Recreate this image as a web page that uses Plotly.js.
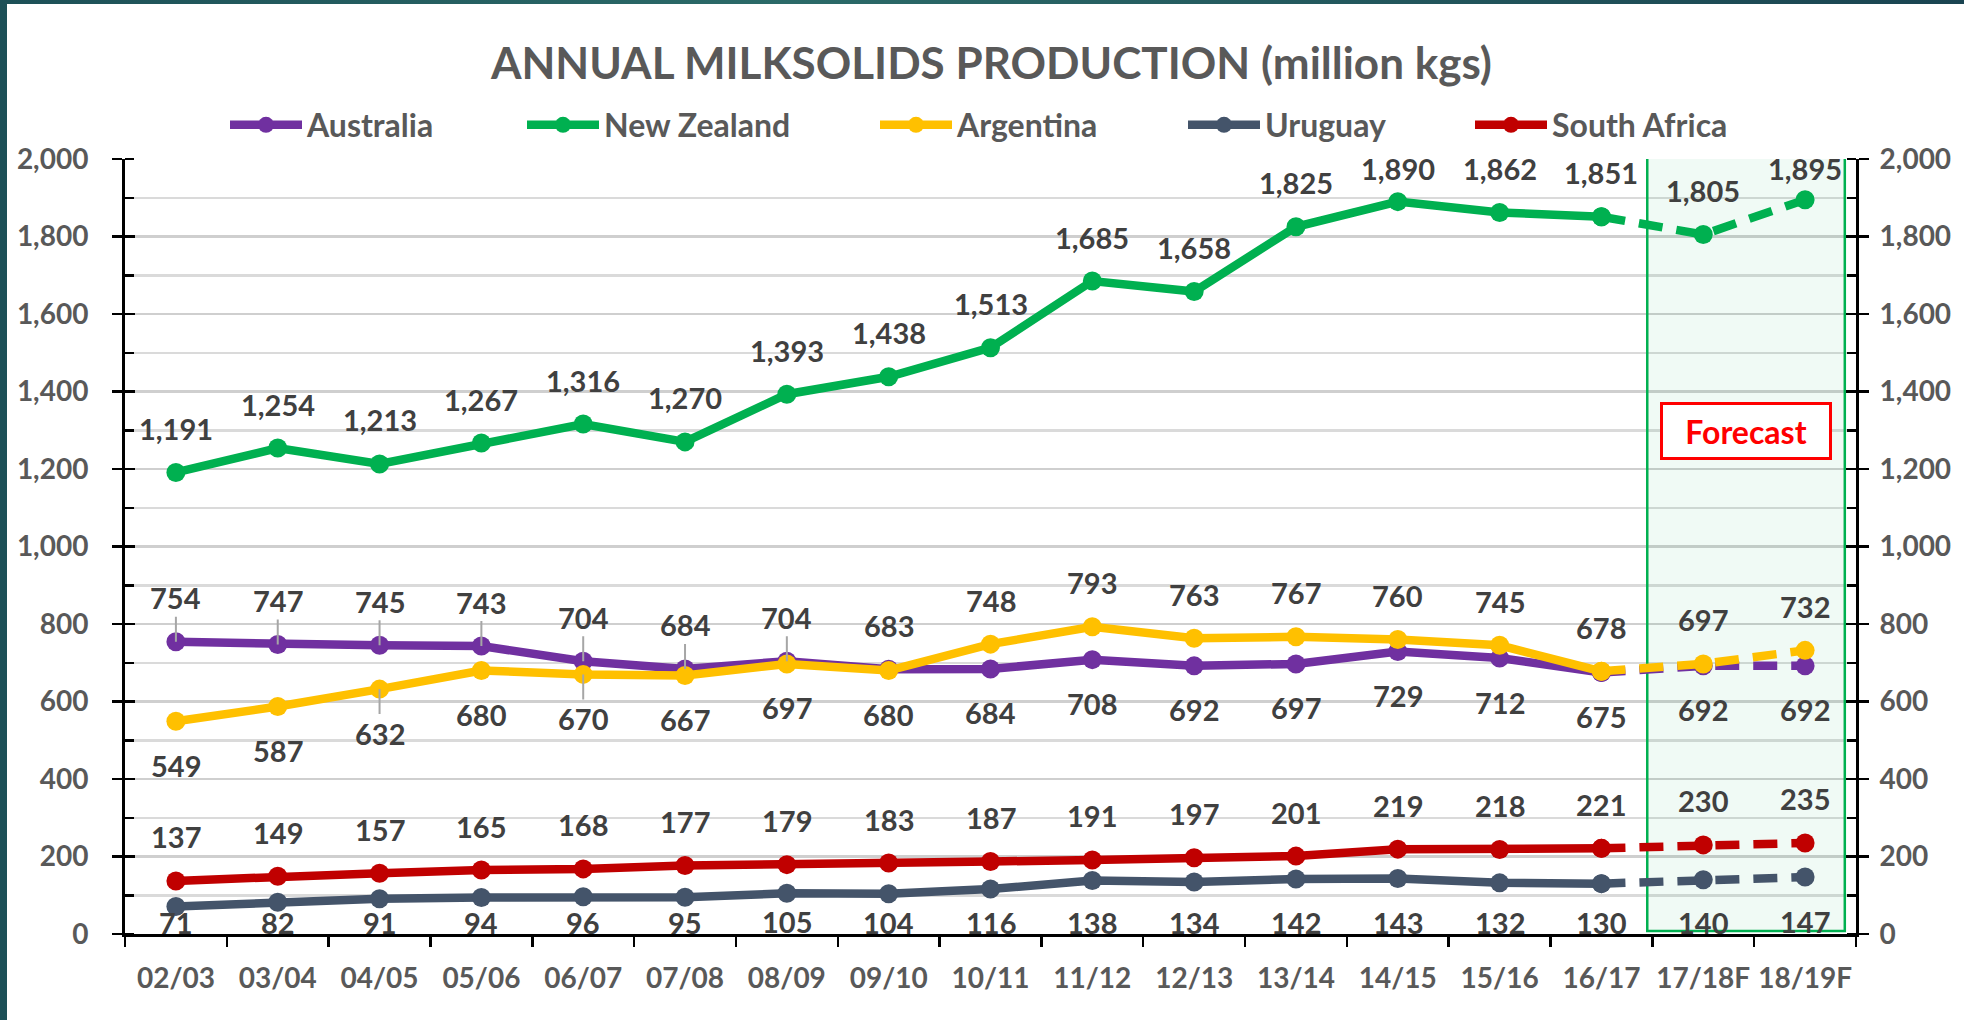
<!DOCTYPE html>
<html><head><meta charset="utf-8">
<script src="https://cdn.plot.ly/plotly-3.0.1.min.js"></script>
<style>
html,body{margin:0;padding:0;width:1964px;height:1020px;overflow:hidden;
background:linear-gradient(90deg,#1d5057 0%,#2b6a68 40%,#1a4451 100%);}
#chart{position:absolute;left:7px;top:4px;width:1957px;height:1016px;background:#fff;}
</style></head><body><div id="chart"></div>
<script>
// ---- data ----
const seasons = ["02/03","03/04","04/05","05/06","06/07","07/08","08/09","09/10","10/11","11/12","12/13","13/14","14/15","15/16","16/17","17/18F","18/19F"];
const australia   = [754,747,745,743,704,684,704,683,684,708,692,697,729,712,675,692,692];
const newZealand  = [1191,1254,1213,1267,1316,1270,1393,1438,1513,1685,1658,1825,1890,1862,1851,1805,1895];
const argentina   = [549,587,632,680,670,667,697,680,748,793,763,767,760,745,678,697,732];
const uruguay     = [71,82,91,94,96,95,105,104,116,138,134,142,143,132,130,140,147];
const southAfrica = [137,149,157,165,168,177,179,183,187,191,197,201,219,218,221,230,235];
const seriesNames = ["Australia","New Zealand","Argentina","Uruguay","South Africa"];
const titleText = "ANNUAL MILKSOLIDS PRODUCTION (million kgs)";
const forecastText = "Forecast";

// ---- layout constants ----
const W = 1957, H = 1016;
const M = {l:118, r:108, t:155, b:86};
const plotW = W - M.l - M.r, plotH = H - M.t - M.b;
const yMax = 2000;
const ppu = plotH / yMax;
const FONT = "Lato, 'Open Sans', sans-serif";
const colors = ["#7030a0","#00b050","#ffc000","#44546a","#c00000"];
const values = [australia,newZealand,argentina,uruguay,southAfrica];
// data labels that were dragged away in the original and show a leader line (series index -> season indices)
const leaderLabels = {0:[0,1,2,3,4,5,6], 2:[2,4]};

const firstF = seasons.findIndex(s => s.endsWith("F"));
const histEnd = firstF;
const last = seasons.length - 1;

// label sides: +1 above, -1 below
const sides = [
  australia.map((v,i) => v >= argentina[i] ? 1 : -1),
  newZealand.map(() => 1),
  argentina.map((v,i) => v > australia[i] ? 1 : -1),
  uruguay.map(() => -1),
  southAfrica.map(() => 1)
];

const traces = [];
const legendIds = ["legend","legend2","legend3","legend4","legend5"];
values.forEach((vals, k) => {
  traces.push({
    type:"scatter", mode:"lines+markers", name:seriesNames[k],
    x: seasons.slice(0, histEnd), y: vals.slice(0, histEnd),
    line:{color:colors[k], width:8.5}, marker:{color:colors[k], size:19},
    legend: legendIds[k], hoverinfo:"skip"
  });
  traces.push({
    type:"scatter", mode:"lines+markers", name:seriesNames[k], showlegend:false,
    x: seasons.slice(histEnd-1), y: vals.slice(histEnd-1),
    line:{color:colors[k], width:8.5, dash:"24px,14px"}, marker:{color:colors[k], size:19},
    legend: legendIds[k], hoverinfo:"skip"
  });
});
// empty traces so that the overlaid tick axes are drawn
["y2","y3","y4"].forEach(ax => traces.push({type:"scatter", mode:"markers", x:[], y:[], yaxis:ax, showlegend:false, hoverinfo:"skip"}));

const annotations = [];
const fmt = v => v.toLocaleString("en-US");
const labelFont = {family:FONT, size:29, color:"#404040", weight:700};
values.forEach((vals, k) => {
  vals.forEach((v, i) => {
    let shift;
    if (sides[k][i] > 0) shift = Math.min(44, (yMax - v) * ppu - 9);
    else shift = -Math.min(44, v * ppu - 12);
    const leader = (leaderLabels[k] || []).includes(i);
    if (leader) {
      annotations.push({
        x: seasons[i], y: v, xref:"x", yref:"y", text: fmt(v), showarrow:true,
        arrowhead:0, arrowwidth:2, arrowcolor:"#a6a6a6", standoff:0, startstandoff:0,
        ax:0, ay:-shift, font:labelFont
      });
    } else {
      annotations.push({
        x: seasons[i], y: v, xref:"x", yref:"y", text: fmt(v), showarrow:false,
        yshift: shift, font:labelFont
      });
    }
  });
});
annotations.push({
  x: 15.42, y: 1298, xref:"x", yref:"y", text: forecastText, showarrow:false,
  font:{family:FONT, size:32, color:"#ff0000", weight:700},
  bordercolor:"#ff0000", borderwidth:3, bgcolor:"#ffffff", borderpad:4,
  width:158, height:44
});

const legendText = [300, 597, 950, 1258, 1545];
const legends = {};
legendIds.forEach((id, k) => {
  legends[id] = {
    orientation:"h", x:(legendText[k] - 82 - M.l) / plotW, xanchor:"left",
    y: 1 + (M.t - 121) / plotH, yanchor:"middle",
    font:{family:FONT, size:32, color:"#595959", weight:700},
    itemwidth:72, bgcolor:"rgba(0,0,0,0)", borderwidth:0
  };
});

const tickFont = {family:FONT, size:28, color:"#595959", weight:700};
const yBase = {range:[0, yMax], dtick:200, tickformat:",", zeroline:false, fixedrange:true};

const layout = Object.assign({
  width:W, height:H, margin:M, paper_bgcolor:"#ffffff", plot_bgcolor:"#ffffff",
  showlegend:true,
  title:{text:titleText, xref:"container", x:0.503, xanchor:"center", yref:"container", y:1 - 60/H, yanchor:"middle",
         font:{family:FONT, size:44, color:"#595959", weight:700}},
  xaxis:{type:"category", range:[-0.5, last + 0.5], tickson:"boundaries", ticks:"outside", ticklen:10, tickwidth:2.5,
         tickcolor:"#000", showline:true, linecolor:"#000", linewidth:3, showgrid:false, zeroline:false,
         tickangle:0, tickfont:tickFont, ticklabelstandoff:17, fixedrange:true},
  yaxis:Object.assign({}, yBase, {side:"left", ticks:"outside", ticklen:10, tickwidth:2.5, tickcolor:"#000",
         showline:true, linecolor:"#000", linewidth:3, showgrid:true, gridcolor:"#cfcfcf", gridwidth:2.5,
         tickfont:tickFont, ticklabelstandoff:18,
         minor:{dtick:100, ticks:"inside", ticklen:9, tickwidth:2.5, tickcolor:"#000", showgrid:true, gridcolor:"#dadada", gridwidth:2.5}}),
  yaxis2:Object.assign({}, yBase, {overlaying:"y", side:"right", anchor:"x", ticks:"outside", ticklen:10, tickwidth:2.5, tickcolor:"#000",
         showline:true, linecolor:"#000", linewidth:3, showgrid:false, tickfont:tickFont, ticklabelstandoff:5,
         minor:{dtick:100, ticks:"inside", ticklen:9, tickwidth:2.5, tickcolor:"#000", showgrid:false}}),
  yaxis3:Object.assign({}, yBase, {overlaying:"y", side:"left", anchor:"x", ticks:"inside", ticklen:10, tickwidth:2.5, tickcolor:"#000",
         showline:false, showgrid:false, showticklabels:false}),
  yaxis4:Object.assign({}, yBase, {overlaying:"y", side:"right", anchor:"x", ticks:"inside", ticklen:10, tickwidth:2.5, tickcolor:"#000",
         showline:false, showgrid:false, showticklabels:false}),
  shapes:[{type:"rect", xref:"x", yref:"y", x0:firstF - 0.55, x1:last + 0.39, y0:8, y1:yMax + 4,
           line:{color:"#00b050", width:2.5}, fillcolor:"rgba(0,176,80,0.06)", layer:"between"}],
  annotations: annotations,
  hovermode:false
}, legends);

Plotly.newPlot("chart", traces, layout, {displayModeBar:false, staticPlot:true});
</script></body></html>
